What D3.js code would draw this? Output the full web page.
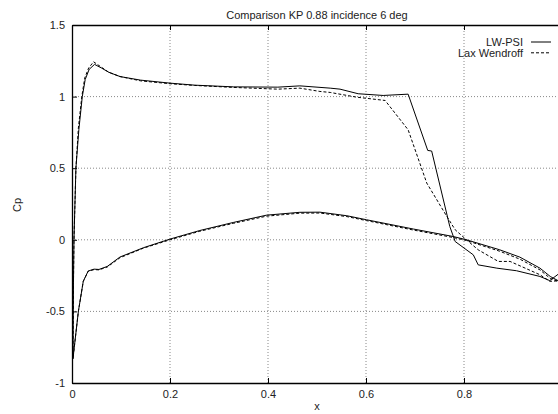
<!DOCTYPE html>
<html>
<head>
<meta charset="utf-8">
<script src="https://cdn.jsdelivr.net/npm/d3@7"></script>
<style>
  body { margin: 0; background: #fff; }
  svg { display: block; font-family: "Liberation Sans", Arial, sans-serif; }
  .grid line { stroke: #888; stroke-dasharray: 1,2; }
  .axis path, .axis line { stroke: #000; }
  .axis path { stroke-width: 1.3; }
  .axis text { font-size: 11px; fill: #222; }
</style>
</head>
<body>
<script>
// Cp along the airfoil, [x, cp], leading edge -> trailing edge
const upperPsi = [[0.002,-0.83],[0.003,-0.3],[0.004,0.0],[0.008,0.5],[0.014,0.77],[0.021,1.0],[0.027,1.12],[0.035,1.19],[0.046,1.225],[0.06,1.2],[0.075,1.17],[0.098,1.14],[0.14,1.115],[0.2,1.094],[0.25,1.08],[0.33,1.068],[0.42,1.066],[0.465,1.075],[0.527,1.059],[0.547,1.052],[0.584,1.02],[0.635,1.008],[0.686,1.017],[0.726,0.624],[0.734,0.62],[0.771,0.093],[0.782,-0.012],[0.819,-0.105],[0.829,-0.175],[0.867,-0.198],[0.907,-0.216],[0.955,-0.256],[0.975,-0.285],[1.0,-0.22]]
const lowerPsi = [[0.002,-0.83],[0.013,-0.5],[0.023,-0.29],[0.033,-0.218],[0.045,-0.205],[0.055,-0.207],[0.072,-0.186],[0.098,-0.12],[0.146,-0.055],[0.2,0.005],[0.261,0.065],[0.329,0.121],[0.397,0.172],[0.465,0.192],[0.506,0.193],[0.561,0.168],[0.601,0.14],[0.697,0.075],[0.778,0.023],[0.805,0.0],[0.873,-0.07],[0.914,-0.121],[0.955,-0.198],[0.976,-0.256],[1.0,-0.3]]
const upperLw = [[0.002,-0.83],[0.003,-0.3],[0.004,0.0],[0.008,0.5],[0.013,0.78],[0.02,1.0],[0.026,1.13],[0.034,1.2],[0.044,1.243],[0.058,1.21],[0.075,1.17],[0.098,1.14],[0.14,1.11],[0.2,1.09],[0.25,1.078],[0.33,1.064],[0.42,1.052],[0.465,1.059],[0.506,1.036],[0.527,1.029],[0.581,0.996],[0.639,0.973],[0.686,0.768],[0.724,0.396],[0.765,0.163],[0.782,0.07],[0.805,0.0],[0.829,-0.07],[0.87,-0.151],[0.894,-0.151],[0.955,-0.244],[0.975,-0.29],[1.0,-0.285]]
const lowerLw = [[0.002,-0.83],[0.013,-0.5],[0.023,-0.29],[0.033,-0.22],[0.045,-0.208],[0.055,-0.21],[0.072,-0.19],[0.098,-0.125],[0.146,-0.058],[0.2,0.0],[0.261,0.06],[0.329,0.115],[0.397,0.165],[0.465,0.186],[0.506,0.187],[0.561,0.162],[0.601,0.134],[0.697,0.068],[0.778,0.016],[0.805,-0.005],[0.873,-0.08],[0.914,-0.135],[0.955,-0.21],[0.976,-0.27],[1.0,-0.3]]

// the x = 1 tick falls just past the right edge of the page
const xTicks = [0, 0.2, 0.4, 0.6, 0.8]
const yTicks = [-1, -0.5, 0, 0.5, 1, 1.5]
const series = [
    { name: "LW-PSI", dash: null, pts: upperPsi.slice().reverse().concat(lowerPsi) },
    { name: "Lax Wendroff", dash: "3,2", pts: upperLw.slice().reverse().concat(lowerLw) }
]

const width = 558, height = 414
const x = d3.scaleLinear([0, 1], [72, 562])
const y = d3.scaleLinear([-1, 1.5], [383, 25])

const svg = d3.select("body").append("svg")
    .attr("width", width)
    .attr("height", height)

// grid
const grid = svg.append("g").attr("class", "grid")
grid.selectAll(".gx").data(xTicks.slice(1)).join("line")
    .attr("x1", d => x(d)).attr("x2", d => x(d))
    .attr("y1", y(-1)).attr("y2", y(1.5))
grid.selectAll(".gy").data(yTicks.slice(1, -1)).join("line")
    .attr("x1", x(0)).attr("x2", x(1))
    .attr("y1", d => y(d)).attr("y2", d => y(d))

const fmt = d => String(d)

svg.append("g").attr("class", "axis")
    .attr("transform", `translate(0,${y(-1)})`)
    .call(d3.axisBottom(x).tickValues(xTicks).tickFormat(fmt).tickSizeInner(-5).tickSizeOuter(0).tickPadding(7))
svg.append("g").attr("class", "axis")
    .attr("transform", `translate(0,${y(1.5)})`)
    .call(d3.axisTop(x).tickValues(xTicks).tickFormat("").tickSizeInner(-5).tickSizeOuter(0))
svg.append("g").attr("class", "axis")
    .attr("transform", `translate(${x(0)},0)`)
    .call(d3.axisLeft(y).tickValues(yTicks).tickFormat(fmt).tickSizeInner(-5).tickSizeOuter(0).tickPadding(7))

// curves
const line = d3.line().x(d => x(d[0])).y(d => y(d[1]))
svg.append("g").selectAll("path").data(series).join("path")
    .attr("d", d => line(d.pts))
    .attr("fill", "none")
    .attr("stroke", "#000")
    .attr("stroke-width", 1)
    .attr("stroke-dasharray", d => d.dash)

// legend
const legend = svg.append("g").selectAll("g").data(series).join("g")
    .attr("transform", (d, i) => `translate(0,${42 + i * 10.8})`)
legend.append("text")
    .attr("x", 523).attr("dy", "0.35em")
    .attr("text-anchor", "end")
    .attr("font-size", 11).attr("fill", "#222")
    .text(d => d.name)
legend.append("line")
    .attr("x1", 531).attr("x2", 551)
    .attr("stroke", "#000")
    .attr("stroke-dasharray", d => d.dash)

svg.append("text")
    .attr("x", 317).attr("y", 15).attr("dy", "0.35em")
    .attr("text-anchor", "middle").attr("font-size", 11).attr("fill", "#222")
    .text("Comparison KP 0.88 incidence 6 deg")
svg.append("text")
    .attr("x", 317).attr("y", 406).attr("dy", "0.35em")
    .attr("text-anchor", "middle").attr("font-size", 11).attr("fill", "#222")
    .text("x")
svg.append("text")
    .attr("transform", "translate(17,205) rotate(-90)")
    .attr("dy", "0.35em")
    .attr("text-anchor", "middle").attr("font-size", 11).attr("fill", "#222")
    .text("Cp")
</script>
</body>
</html>
